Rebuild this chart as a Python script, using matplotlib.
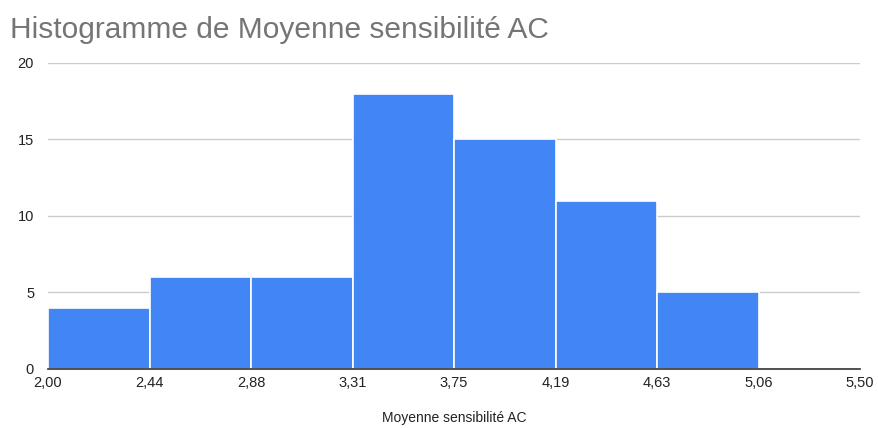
import matplotlib
matplotlib.use("Agg")
import matplotlib.pyplot as plt

bin_edges = [2.00, 2.4375, 2.875, 3.3125, 3.75, 4.1875, 4.625, 5.0625, 5.50]
tick_labels = ["2,00", "2,44", "2,88", "3,31", "3,75", "4,19", "4,63", "5,06", "5,50"]
counts = [4, 6, 6, 18, 15, 11, 5, 0]
y_ticks = [0, 5, 10, 15, 20]

plt.rcParams['font.family'] = ['Liberation Sans', 'DejaVu Sans']

fig = plt.figure(figsize=(8.79, 4.28), dpi=100)
ax = fig.add_axes([0.0546, 0.138, 0.924, 0.715])

widths = [bin_edges[i + 1] - bin_edges[i] for i in range(len(counts))]
ax.bar(bin_edges[:-1], counts, width=widths, align='edge', color='#4285F4',
       edgecolor='white', linewidth=1.2, zorder=3)

ax.set_xlim(bin_edges[0], bin_edges[-1])
ax.set_ylim(0, 20)
ax.set_xticks(bin_edges)
ax.set_xticklabels(tick_labels)
ax.set_yticks(y_ticks)
ax.grid(axis='y', color='#cccccc', linewidth=1, zorder=0)
for s in ['top', 'right', 'left']:
    ax.spines[s].set_visible(False)
ax.spines['bottom'].set_color('#333333')
ax.spines['bottom'].set_linewidth(1.2)
ax.spines['bottom'].set_zorder(4)
ax.tick_params(axis='both', length=0, labelsize=10.5, colors='#222222')
ax.tick_params(axis='y', pad=10)
ax.tick_params(axis='x', pad=5)

ax.set_xlabel("Moyenne sensibilité AC", fontsize=10, color='#222222', labelpad=15)
fig.text(0.011, 0.911, "Histogramme de Moyenne sensibilité AC", fontsize=21.5,
         color='#757575', ha='left', va='baseline')

fig.savefig("out.png", dpi=100)
